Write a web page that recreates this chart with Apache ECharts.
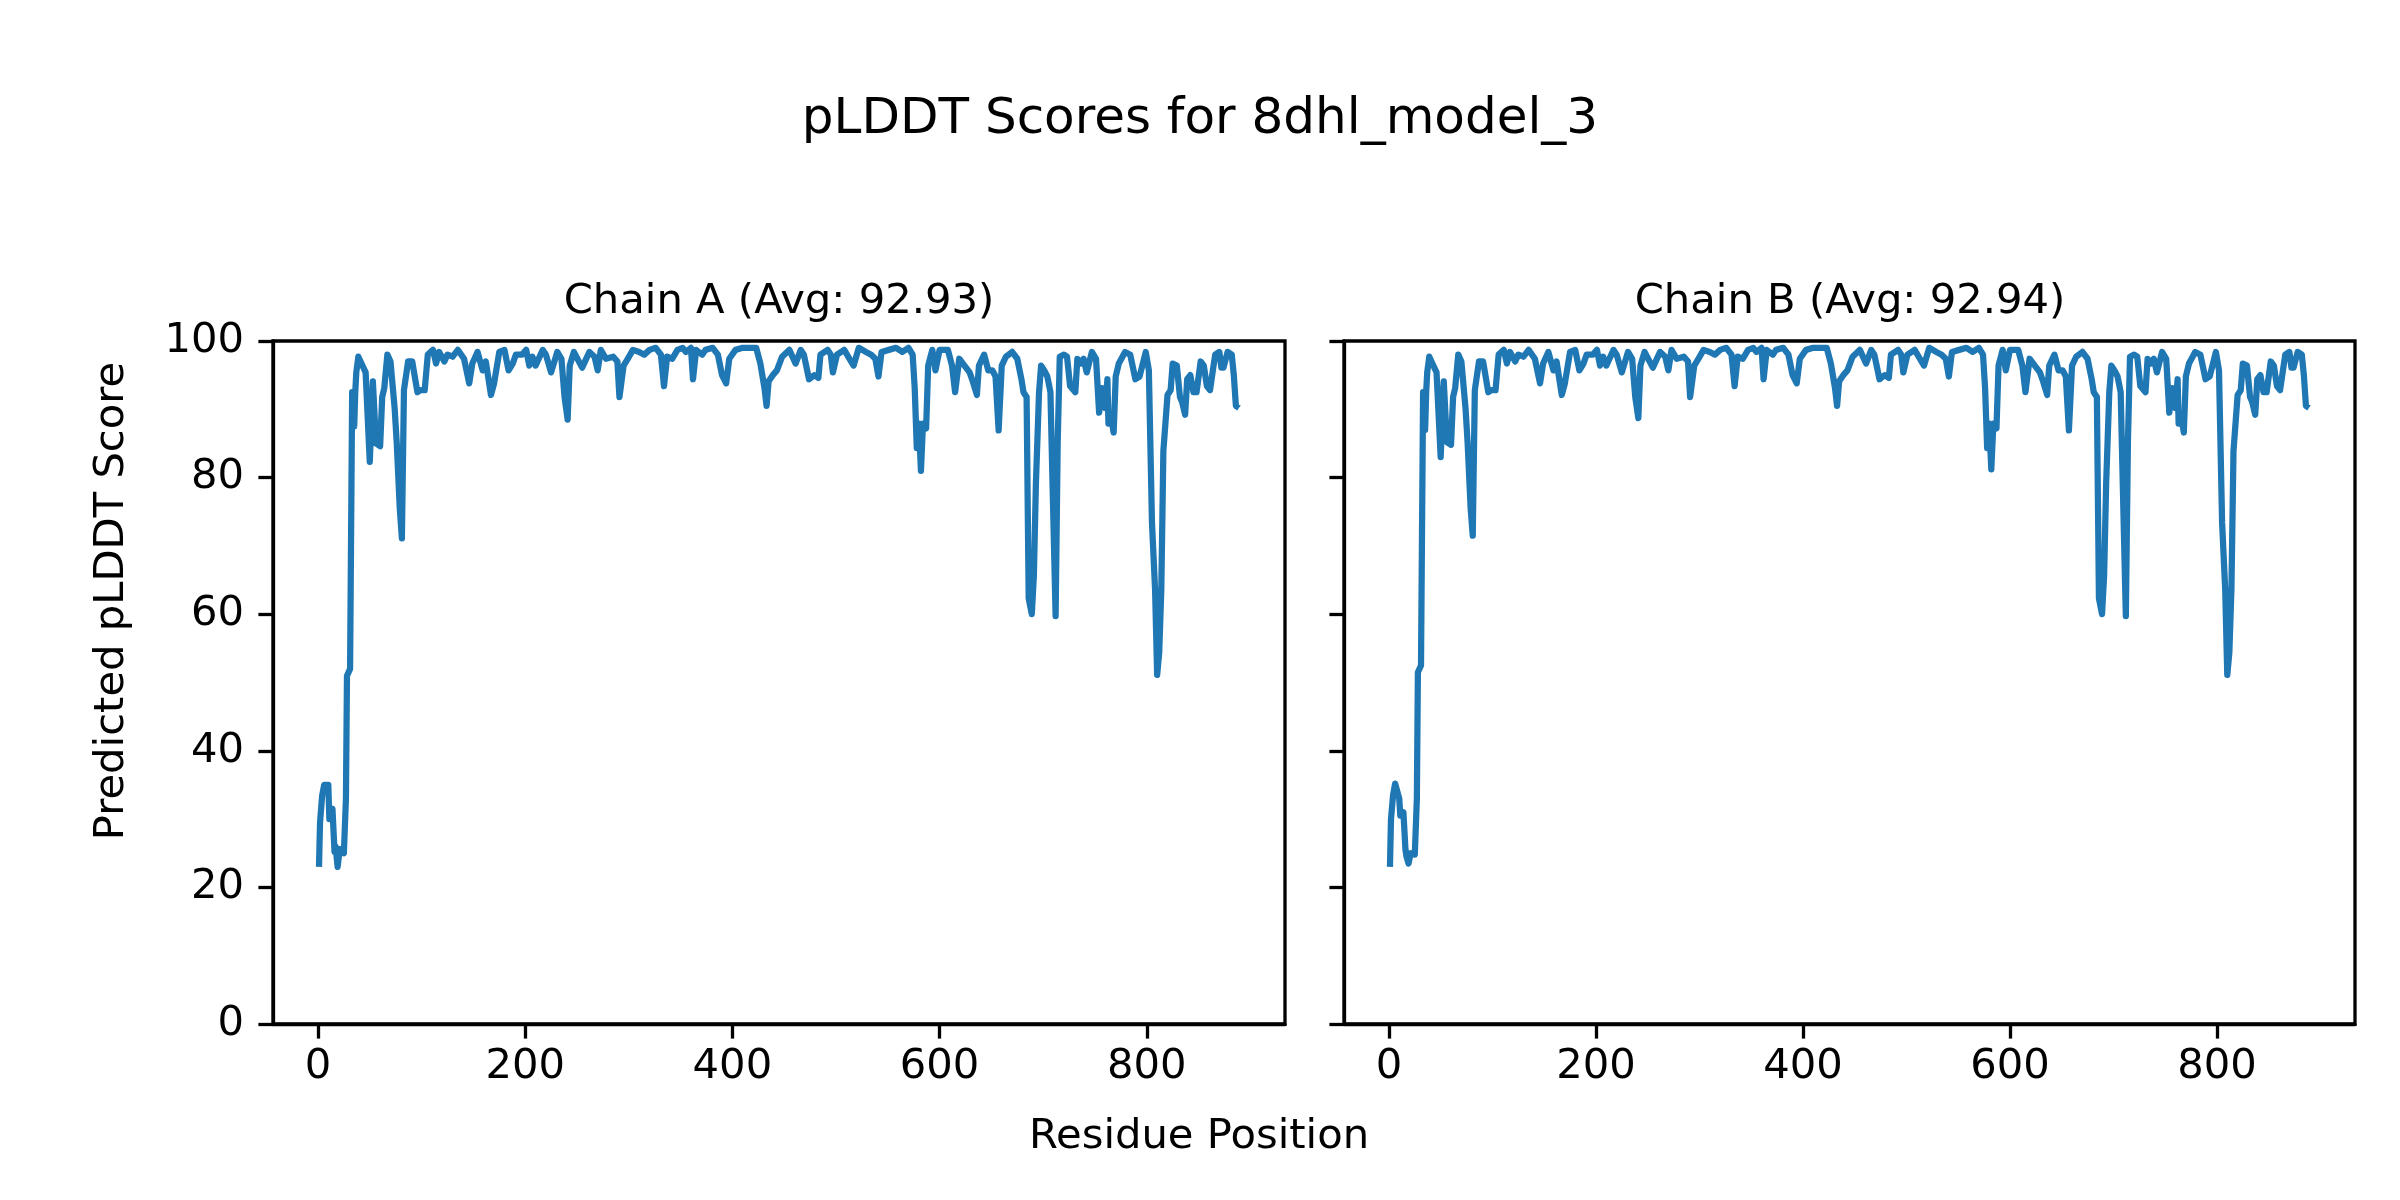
<!DOCTYPE html>
<html>
<head>
<meta charset="utf-8">
<script src="https://cdn.jsdelivr.net/npm/echarts@6/dist/echarts.min.js"></script>
<style>html,body{margin:0;padding:0;background:#fff}#c{width:2400px;height:1200px}</style>
</head>
<body>
<div id="c"></div>
<script>
var figTitle = 'pLDDT Scores for 8dhl_model_3';
var titleA = 'Chain A (Avg: 92.93)';
var titleB = 'Chain B (Avg: 92.94)';
var xLabel = 'Residue Position';
var yLabel = 'Predicted pLDDT Score';
var xTicks = [0, 200, 400, 600, 800];

var posA = [1,2,4,6,10,11,14,16,17,19,21,25,27,28,31,33,35,36,37,39,42,46,50,53,56,60,62,64,67,70,74,76,79,81,83,87,91,96,99,103,106,111,114,117,122,125,130,135,141,146,149,154,159,162,167,170,175,180,184,188,191,197,201,204,207,210,217,220,225,231,235,238,241,243,247,255,262,267,270,273,278,285,289,291,295,299,304,310,315,320,326,331,334,337,342,347,352,355,360,362,365,371,374,381,386,390,394,397,403,410,423,427,431,433,435,439,443,448,455,461,466,469,474,479,483,485,492,495,497,501,508,513,517,522,529,534,538,541,544,551,558,564,570,574,576,578,580,582,584,587,589,593,596,600,608,612,615,619,624,629,632,636,638,643,647,651,654,657,660,664,670,675,679,681,684,686,689,691,693,696,698,701,704,707,709,712,714,716,720,723,726,731,733,736,739,742,747,751,754,757,760,762,763,766,768,770,773,779,784,789,793,799,802,805,808,810,812,814,816,820,823,825,829,832,834,837,839,842,845,848,852,855,858,861,866,870,872,874,878,882,884,886,889];
var valA = [23,29.5,33.4,35,35,30,31.5,25.2,26,23,25.6,25,33,51,52,92.5,87.5,92.5,95.4,97.7,96.7,95.4,82.3,94.1,85,84.6,91.8,93.1,98,97,90.2,85.2,75.4,71.1,92.8,97,97,92.5,92.8,92.8,98,98.7,96.7,98.4,97,98,97.7,98.7,97.4,93.8,96.7,98.4,95.7,97,92.1,93.8,98.4,98.7,95.7,96.7,98,98,98.7,96.4,97.7,96.4,98.7,98,95.4,98.4,97.4,91.8,88.5,96.4,98.4,96.1,98.4,97.7,95.7,98.7,97.4,97.7,97,91.8,96.4,97.4,98.7,98.4,98,98.7,99,98,93.4,97.7,97.4,98.7,99,98.4,99,94.4,98.7,98,98.7,99,98,95,93.8,97.4,98.7,99,99,96.7,93.1,90.5,94.1,95,95.7,97.7,98.7,96.7,98.7,98,94.4,95,94.6,98,98.7,98,95.4,98,98.7,97.4,96.4,99,98.4,98,97.4,94.8,98.4,98.7,99,98.4,99,98,93.1,84.3,87.9,81,87.9,87.2,96.4,98.7,95.7,98.7,98.7,96.4,92.5,97.4,96.4,95.4,94.1,92.1,96.4,98,95.7,95.7,94.8,86.9,96.4,97.7,98.4,97.4,94.4,92.5,91.8,62.3,60,65.6,79.3,92.5,96.4,95.7,94.8,92.5,79.3,59.7,85.2,97.7,98,97.7,93.4,92.5,97.4,96.7,97.4,95.4,98.4,97.4,89.5,93.1,90.2,94.4,87.9,88.5,86.6,94.8,96.7,98.4,98,94.4,94.8,98.4,95.7,73.4,63.6,51.1,54.4,63.6,83.9,92.1,92.8,96.7,96.4,91.8,91.1,89.2,94.4,95,92.5,92.5,97,96.4,93.4,92.8,98,98.4,96.1,96.1,98.4,98,95,90.5,90.2];

var posB = posA.slice();
var valB = [23,30,33.5,35.2,33,30.5,31,25.5,24.5,23.5,25,24.8,33,51.5,52.5,92.5,87,92.5,95.4,97.7,96.7,95.4,83,94.1,85.2,84.8,91.8,93.1,98,97,90.2,85.2,75.4,71.5,92.8,97,97,92.5,92.8,92.8,98,98.7,96.7,98.4,97,98,97.7,98.7,97.4,93.8,96.7,98.4,95.7,97,92.1,93.8,98.4,98.7,95.7,96.7,98,98,98.7,96.4,97.7,96.4,98.7,98,95.4,98.4,97.4,91.8,88.7,96.4,98.4,96.1,98.4,97.7,95.7,98.7,97.4,97.7,97,91.8,96.4,97.4,98.7,98.4,98,98.7,99,98,93.4,97.7,97.4,98.7,99,98.4,99,94.4,98.7,98,98.7,99,98,95,93.8,97.4,98.7,99,99,96.7,93.1,90.5,94.1,95,95.7,97.7,98.7,96.7,98.7,98,94.4,95,94.6,98,98.7,98,95.4,98,98.7,97.4,96.4,99,98.4,98,97.4,94.8,98.4,98.7,99,98.4,99,98,93.1,84.3,87.9,81.2,87.9,87.2,96.4,98.7,95.7,98.7,98.7,96.4,92.5,97.4,96.4,95.4,94.1,92.1,96.4,98,95.7,95.7,94.8,86.9,96.4,97.7,98.4,97.4,94.4,92.5,91.8,62.3,60,65.6,79.3,92.5,96.4,95.7,94.8,92.5,79.3,59.7,85.2,97.7,98,97.7,93.4,92.5,97.4,96.7,97.4,95.4,98.4,97.4,89.5,93.1,90.2,94.4,87.9,88.5,86.6,94.8,96.7,98.4,98,94.4,94.8,98.4,95.7,73.4,63.6,51.1,54.4,63.6,83.9,92.1,92.8,96.7,96.4,91.8,91.1,89.2,94.4,95,92.5,92.5,97,96.4,93.4,92.8,98,98.4,96.1,96.1,98.4,98,95,90.5,90.2];

function pairs(p, v) { return p.map(function (x, i) { return [x, v[i]]; }); }

var FONT = 'DejaVu Sans';
var LW = 3.3;
function xAx(idx) {
  return {
    type: 'value', gridIndex: idx, min: -43.4, max: 933.4,
    axisLine: { show: true, onZero: false, lineStyle: { color: '#000', width: LW } },
    axisTick: { show: true, inside: false, length: 14.6, lineStyle: { color: '#000', width: LW }, customValues: xTicks },
    axisLabel: { show: true, margin: 22, fontFamily: FONT, fontSize: 41.7, color: '#000', customValues: xTicks },
    splitLine: { show: false }
  };
}
function yAx(idx, showLabel) {
  return {
    type: 'value', gridIndex: idx, min: 0, max: 100, interval: 20,
    axisLine: { show: true, onZero: false, lineStyle: { color: '#000', width: LW } },
    axisTick: { show: true, inside: false, length: 14.6, lineStyle: { color: '#000', width: LW } },
    axisLabel: { show: showLabel, margin: 29, fontFamily: FONT, fontSize: 41.7, color: '#000' },
    splitLine: { show: false }
  };
}
function lineSeries(idx, data) {
  return {
    type: 'line', xAxisIndex: idx, yAxisIndex: idx, data: data,
    showSymbol: false, symbol: 'none', animation: false,
    lineStyle: { color: '#1f77b4', width: 6.25, join: 'round', cap: 'butt' },
    itemStyle: { color: '#1f77b4' }, clip: true
  };
}

var chart = echarts.init(document.getElementById('c'), null, { renderer: 'canvas' });
chart.setOption({
  backgroundColor: '#fff',
  animation: false,
  grid: [
    { left: 273, top: 341, width: 1012, height: 683, show: true, borderColor: '#000', borderWidth: LW, backgroundColor: 'transparent', containLabel: false },
    { left: 1344, top: 341, width: 1011, height: 683, show: true, borderColor: '#000', borderWidth: LW, backgroundColor: 'transparent', containLabel: false }
  ],
  xAxis: [xAx(0), xAx(1)],
  yAxis: [yAx(0, true), yAx(1, false)],
  series: [lineSeries(0, pairs(posA, valA)), lineSeries(1, pairs(posB, valB))],
  graphic: [
    { type: 'text', x: 1200, y: 120, style: { text: figTitle, font: '50px "' + FONT + '"', fill: '#000', textAlign: 'center', textVerticalAlign: 'middle' } },
    { type: 'text', x: 779, y: 302, style: { text: titleA, font: '41.7px "' + FONT + '"', fill: '#000', textAlign: 'center', textVerticalAlign: 'middle' } },
    { type: 'text', x: 1850, y: 302, style: { text: titleB, font: '41.7px "' + FONT + '"', fill: '#000', textAlign: 'center', textVerticalAlign: 'middle' } },
    { type: 'text', x: 1199, y: 1137, style: { text: xLabel, font: '41.7px "' + FONT + '"', fill: '#000', textAlign: 'center', textVerticalAlign: 'middle' } },
    { type: 'text', x: 112, y: 601, rotation: Math.PI / 2, style: { text: yLabel, font: '41.7px "' + FONT + '"', fill: '#000', textAlign: 'center', textVerticalAlign: 'middle' } }
  ]
});
</script>
</body>
</html>
